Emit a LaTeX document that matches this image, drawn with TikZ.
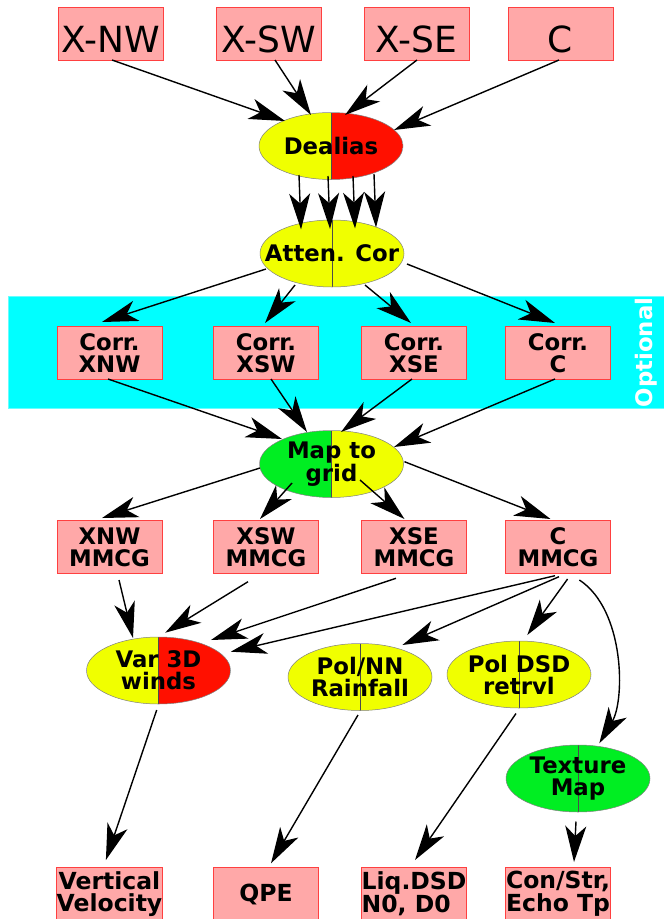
\documentclass[tikz,border=0pt]{standalone}
\usepackage{fontspec}
\setmainfont{DejaVu Sans}
\usetikzlibrary{shapes.geometric,calc,arrows.meta}
\definecolor{boxfill}{HTML}{FFA8A8}
\definecolor{boxline}{HTML}{FF4040}
\definecolor{yel}{HTML}{F0FF00}
\definecolor{rd}{HTML}{FF1000}
\definecolor{grn}{HTML}{00EE22}
\definecolor{band}{HTML}{00FFFF}
\newcommand{\lblfont}{\bfseries\fontsize{22.8}{22}\selectfont}
\newcommand{\botfont}{\bfseries\fontsize{23.5}{22.7}\selectfont}
\begin{document}
\begin{tikzpicture}[x=1pt,y=-1pt,
  box/.style={draw=boxline, fill=boxfill, line width=0.8pt, minimum width=105pt,
    minimum height=53pt, inner sep=0pt, align=center, font=\lblfont},
  topbox/.style={box, font=\fontsize{36}{40}\selectfont, text height=37pt, text depth=0pt},
  botbox/.style={box, font=\botfont},
  ell/.style 2 args={ellipse, draw=gray, line width=0.5pt, minimum width=144pt,
    minimum height=67pt, inner sep=0pt,
    path picture={
      \fill[#1] (path picture bounding box.south west) rectangle (path picture bounding box.north);
      \fill[#2] (path picture bounding box.north) rectangle (path picture bounding box.south east);
      \draw[line width=0.5pt, black!70] (path picture bounding box.north) -- (path picture bounding box.south);}},
  etext/.style={font=\lblfont, align=center, inner sep=0pt},
  arr/.style={-{Stealth[length=36pt,width=21pt,inset=10pt]}, line width=1.4pt}
]
\useasboundingbox (0,0) rectangle (664,919);
\fill[white] (0,0) rectangle (664,919);

% optional band
\path[fill=band, draw=band!60!white, line width=0.6pt] (8,296) rectangle (666,408);
\node[font=\lblfont, text=white, rotate=90, inner sep=0pt] (opt) at (646.5,352.5) {Optional};

% top row
\node[topbox] (xnw) at (111,33.5) {X-NW};
\node[topbox] (xsw) at (268.5,33.5) {X-SW};
\node[topbox] (xse) at (416.5,33.5) {X-SE};
\node[topbox] (c) at (560.5,33.5) {C};

% ellipses
\node[ell={yel}{rd}] (dealias) at (331,146) {};
\node[etext] (dealiasT) at (dealias) {Dealias};
\node[ell={yel}{yel}] (atten) at (332,253.5) {};
\node[etext] (attenT) at (atten) {Atten. Cor};

% corr row
\node[box] (cxnw) at (109.5,353) {Corr.\\XNW};
\node[box] (cxsw) at (266,353) {Corr.\\XSW};
\node[box] (cxse) at (414,353) {Corr.\\XSE};
\node[box] (cc) at (558,353) {Corr.\\C};

\node[ell={grn}{yel}] (map) at (331.5,464) {};
\node[etext] (mapT) at (map) {Map to\\grid};

% mmcg row
\node[box] (mxnw) at (109.5,547) {XNW\\MMCG};
\node[box] (mxsw) at (266,547) {XSW\\MMCG};
\node[box] (mxse) at (414,547) {XSE\\MMCG};
\node[box] (mc) at (558,547) {C\\MMCG};

\node[ell={yel}{rd}] (var) at (158.5,670.5) {};
\node[etext] (varT) at (var) {Var 3D\\winds};
\node[ell={yel}{yel}] (polnn) at (360,677) {};
\node[etext] (polnnT) at (polnn) {Pol/NN\\Rainfall};
\node[ell={yel}{yel}] (poldsd) at (519,674.5) {};
\node[etext] (poldsdT) at (poldsd) {Pol DSD\\retrvl};
\node[ell={grn}{grn}] (tex) at (578,778.5) {};
\node[etext] (texT) at (tex) {Texture\\Map};

% bottom row
\node[botbox] (vv) at (109.5,894) {Vertical\\Velocity};
\node[botbox] (qpe) at (266,894) {QPE};
\node[botbox, align=left] (liq) at (414,894) {Liq.DSD\\N0, D0};
\node[botbox] (con) at (558,894) {Con/Str,\\Echo Tp};

% edges top -> dealias
\draw[arr] ($(xnw)+(1,26.5)$) -- ($(dealias)+(-46,-25)$);
\draw[arr] ($(xsw)+(6.5,26.5)$) -- ($(dealias)+(-20,-31)$);
\draw[arr] ($(xse)+(0.5,26.5)$) -- ($(dealias)+(14,-31)$);
\draw[arr] ($(c)+(-1.5,26.5)$) -- ($(dealias)+(63,-16)$);

% dealias -> atten
\draw[arr] ($(dealias)+(-32,29)$) -- ($(atten)+(-31,-24)$);
\draw[arr] ($(dealias)+(-3,30)$) -- ($(atten)+(-2,-24.5)$);
\draw[arr] ($(dealias)+(22,30)$) -- ($(atten)+(23,-25)$);
\draw[arr] ($(dealias)+(43,28)$) -- ($(atten)+(44,-26)$);

% atten -> corr
\draw[arr] ($(atten)+(-66,15.5)$) -- ($(cxnw)+(-7.5,-31)$);
\draw[arr] ($(atten)+(-37,31.5)$) -- ($(cxsw)+(-1,-30)$);
\draw[arr] ($(atten)+(33,31.5)$) -- ($(cxse)+(-3,-30)$);
\draw[arr] ($(atten)+(75,10.5)$) -- ($(cc)+(-3,-30)$);

% corr -> map
\draw[arr] ($(cxnw)+(-1.5,26)$) -- ($(map)+(-49.5,-25)$);
\draw[arr] ($(cxsw)+(5,26)$) -- ($(map)+(-24.5,-32)$);
\draw[arr] ($(cxse)+(-2,26)$) -- ($(map)+(9.5,-32)$);
\draw[arr] ($(cc)+(-3,26)$) -- ($(map)+(62.5,-17)$);

% map -> mmcg
\draw[arr] ($(map)+(-71.5,4)$) -- ($(mxnw)+(-7.5,-29)$);
\draw[arr] ($(map)+(-39.5,19)$) -- ($(mxsw)+(-6,-28)$);
\draw[arr] ($(map)+(28.5,16)$) -- ($(mxse)+(-9.5,-28)$);
\draw[arr] ($(map)+(73,-2.3)$) -- ($(mc)+(-7.5,-28)$);

% mmcg -> second level
\draw[arr] ($(mxnw)+(9.5,33)$) -- ($(var)+(-25.5,-32.5)$);
\draw[arr] ($(mxsw)+(-18,34.7)$) -- ($(var)+(6.7,-37.8)$);
\draw[arr] ($(mxse)+(-18,31.3)$) -- ($(var)+(52.5,-30.5)$);
\draw[arr] ($(mc)+(-3,28.7)$) -- ($(var)+(72.3,-18.8)$);
\draw[arr] ($(mc)+(1,29.7)$) -- ($(polnn)+(42.4,-32)$);
\draw[arr] ($(mc)+(9.6,32)$) -- ($(poldsd)+(8.3,-39.5)$);
\draw[arr] ($(mc)+(21.4,33)$) .. controls ($(mc)+(67,63)$) and ($(mc)+(67,153)$) .. ($(tex)+(21.3,-35.2)$);

% to bottom
\draw[arr] ($(var)+(-1.8,39.5)$) -- ($(vv)+(-3.6,-34)$);
\draw[arr] ($(polnn)+(-2,38)$) -- ($(qpe)+(5,-30.7)$);
\draw[arr] ($(poldsd)+(-3,39)$) -- ($(liq)+(1,-34)$);
\draw[arr] ($(tex)+(-2,43)$) -- ($(con)+(16,-32)$);
\end{tikzpicture}
\end{document}
